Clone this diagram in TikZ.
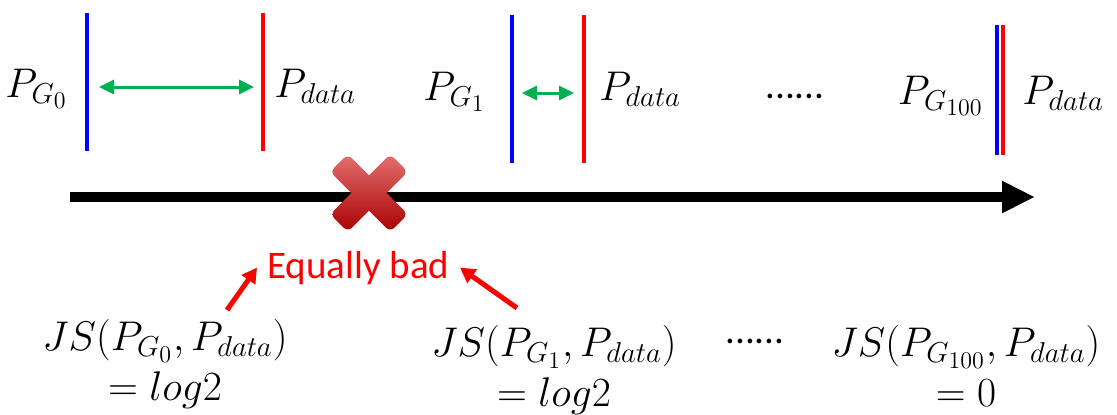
\documentclass[tikz,border=0pt]{standalone}
\usepackage{fontspec}
\newfontfamily\calibri{Carlito}
\usepackage{xcolor}
\usepackage{tikz}
\usetikzlibrary{arrows.meta, positioning}

\definecolor{gapgreen}{RGB}{0,176,80}
\definecolor{xlight}{RGB}{228,112,112}
\definecolor{xmid}{RGB}{222,18,18}
\definecolor{xdark}{RGB}{168,0,0}

\begin{document}
\begin{tikzpicture}[
			x=0.5pt, y=-0.5pt,
			font=\fontsize{20.74}{25}\selectfont,
			lbl/.style={inner sep=0pt},
			js/.style={inner sep=0pt, align=center, anchor=north},
			bad/.style={inner sep=0pt, text=red, font=\calibri\fontsize{19.5}{23}\selectfont},
			dots/.style={inner sep=0pt, font=\calibri\fontsize{19.5}{23}\selectfont},
			gbar/.style={draw=blue, line width=2pt},
			dbar/.style={draw=red, line width=2pt},
			gap/.style={{Triangle[length=7.5pt,width=7pt]}-{Triangle[length=7.5pt,width=7pt]}, draw=gapgreen, line width=1.5pt},
			axis/.style={-{Triangle[length=16.5pt,width=15pt]}, line width=5pt},
			note/.style={-{Triangle[length=7.5pt,width=8pt]}, draw=red, line width=2.5pt}
			]
			
			\path[fill=white, use as bounding box] (0,0) rectangle (1117,414);
			
			% -------------------------------
			% AXIS
			% -------------------------------
			\coordinate (a0) at (70,197);
			\coordinate (a1) at (1035,197);
			\draw[axis] (a0) -- (a1);
			
			% -------------------------------
			% G0
			% -------------------------------
			\draw[gbar] (87,13) -- (87,151);
			\draw[dbar] (263,13) -- (263,151);
			\coordinate (b0) at (99,87);
			\coordinate (r0) at (254,87);
			\draw[gap] (b0) -- (r0);
			\node[lbl, anchor=base east] (pg0) at (68,97) {$P_{G_0}$};
			\node[lbl, anchor=base west] (pd0) at (274,97) {$P_{data}$};
			
			% -------------------------------
			% G1
			% -------------------------------
			\draw[gbar] (512,15) -- (512,163);
			\draw[dbar] (584,15) -- (584,163);
			\coordinate (b1) at (522,93);
			\coordinate (r1) at (574,93);
			\draw[gap] (b1) -- (r1);
			\node[lbl, anchor=base east] (pg1) at (486,100) {$P_{G_1}$};
			\node[lbl, anchor=base west] (pd1) at (599,100) {$P_{data}$};
			\node[dots, anchor=base west] (dt) at (765,98) {......};
			
			% -------------------------------
			% G100
			% -------------------------------
			\draw[gbar] (997,25) -- (997,155);
			\draw[dbar] (1003,25) -- (1003,155);
			\node[lbl, anchor=base east] (pg100) at (984,104) {$P_{G_{100}}$};
			\node[lbl, anchor=base west] (pd100) at (1022,104) {$P_{data}$};
			
			% -------------------------------
			% CROSS
			% -------------------------------
			\shade[top color=xlight, middle color=xmid, bottom color=xdark, rounded corners=3pt]
				(347.8,154.1) -- (407.9,214.2) -- (390.2,231.9) -- (330.1,171.8) -- cycle
				(390.2,154.1) -- (407.9,171.8) -- (347.8,231.9) -- (330.1,214.2) -- cycle;
			
			% -------------------------------
			% JS
			% -------------------------------
			\node[js] (js0) at (165,319) {$JS(P_{G_0},P_{data})$\\$=log2$};
			\node[js] (js1) at (554,325) {$JS(P_{G_1},P_{data})$\\$=log2$};
			\node[dots, anchor=base west] (db) at (725,343) {......};
			\node[js] (js100) at (966,325) {$JS(P_{G_{100}},P_{data})$\\$=0$};
			
			\node[bad, anchor=base west] (eqbad) at (267,278) {Equally bad};
			
			% -------------------------------
			% ARROWS
			% -------------------------------
			\coordinate (t0) at (227,310);
			\coordinate (t1) at (517,308);
			\draw[note] (t0) -- ([xshift=-5pt]eqbad.west);
			\draw[note] (t1) -- ([xshift=5pt]eqbad.east);
			
		\end{tikzpicture}
\end{document}
